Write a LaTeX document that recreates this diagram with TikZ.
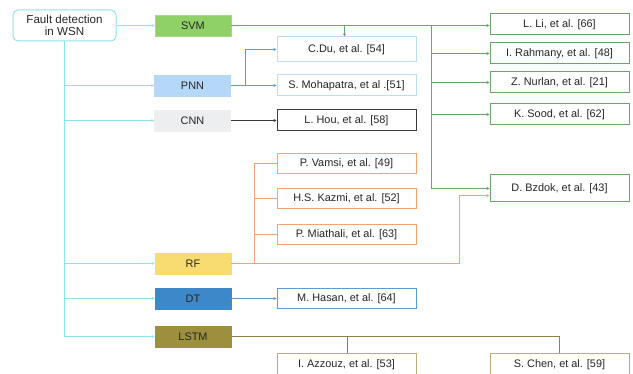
\documentclass[tikz,border=0pt]{standalone}
\usepackage{fontspec}
\setmainfont{Liberation Sans}
\usetikzlibrary{arrows.meta}
\definecolor{cyanc}{HTML}{8EE2EE}
\definecolor{svmfill}{HTML}{8FD166}
\definecolor{greenc}{HTML}{6AA56A}
\definecolor{pnnfill}{HTML}{B5D8F8}
\definecolor{lblue}{HTML}{BDDCF5}
\definecolor{bluec}{HTML}{5B9BD5}
\definecolor{cnnfill}{HTML}{EDEEEF}
\definecolor{darkc}{HTML}{3A3A3A}
\definecolor{rffill}{HTML}{F8DC70}
\definecolor{orangec}{HTML}{F5A373}
\definecolor{dtfill}{HTML}{3D88C8}
\definecolor{lstmfill}{HTML}{9C903F}
\definecolor{olivec}{HTML}{8E8048}
\definecolor{olivebox}{HTML}{B8AD78}
\begin{document}
\begin{tikzpicture}[x=1pt,y=-1pt,
  font=\fontsize{10.9}{12}\selectfont,
  every node/.style={inner sep=0pt,text=black!85},
  method/.style={minimum width=76pt,minimum height=21pt,draw=#1,line width=0.6pt},
  ref/.style={minimum width=139pt,minimum height=21pt,draw=#1,line width=1pt,fill=white},
  arr/.style={-{Stealth[length=3pt,width=3pt]}},
  link/.style={draw=#1,line width=0.9pt}]
\useasboundingbox (0,0) rectangle (633,374);
% root
\node[draw=cyanc,line width=1pt,rounded corners=5pt,minimum width=103pt,minimum height=31pt,align=center,font=\fontsize{11.6}{11.5}\selectfont] (root) at (64.5,25.5) {Fault detection\\in WSN};
% methods
\node[method=svmfill!80!white,fill=svmfill] (svm) at (193,25.5) {SVM};
\node[method=pnnfill,fill=pnnfill] (pnn) at (192.5,85.5) {PNN};
\node[method=cnnfill,fill=cnnfill] (cnn) at (192.5,120.5) {CNN};
\node[method=rffill,fill=rffill] (rf) at (193,263.5) {RF};
\node[method=dtfill,fill=dtfill] (dt) at (193,298.5) {DT};
\node[method=lstmfill,fill=lstmfill] (lstm) at (193,336.5) {LSTM};
% middle refs
\node[ref=lblue,minimum height=25pt] (cdu) at (346.5,49.5) {C.Du, et al. [54]};
\node[ref=lblue] (smoh) at (346.5,85.5) {S. Mohapatra, et al .[51]};
\node[ref=darkc] (lhou) at (346.5,120.5) {L. Hou, et al. [58]};
\node[ref=orangec,minimum height=20pt] (vamsi) at (346.5,163.5) {P. Vamsi, et al. [49]};
\node[ref=orangec,minimum height=20pt] (kazmi) at (346.5,198.5) {H.S. Kazmi, et al. [52]};
\node[ref=orangec,minimum height=20pt] (miat) at (346.5,234.5) {P. Miathali, et al. [63]};
\node[ref=bluec,minimum height=20pt] (hasan) at (346.5,298.5) {M. Hasan, et al. [64]};
\node[ref=olivebox] (azz) at (346.5,364.5) {I. Azzouz, et al. [53]};
% right refs
\node[ref=greenc] (lli) at (559.5,24.5) {L. Li, et al. [66]};
\node[ref=greenc] (rahm) at (559.5,53.5) {I. Rahmany, et al. [48]};
\node[ref=greenc] (nurl) at (559.5,82.5) {Z. Nurlan, et al. [21]};
\node[ref=greenc] (sood) at (559.5,114.5) {K. Sood, et al. [62]};
\node[ref=greenc,minimum height=27pt] (bzd) at (559.5,188.5) {D. Bzdok, et al. [43]};
\node[ref=olivebox] (chen) at (559.5,364.5) {S. Chen, et al. [59]};
% trunk
\draw[link=cyanc,arr] (root.east |- svm.west) -- (svm.west);
\draw[link=cyanc,arr] (root.south) |- (pnn.west);
\draw[link=cyanc,arr] (root.south) |- (cnn.west);
\draw[link=cyanc,arr] (root.south) |- (rf.west);
\draw[link=cyanc,arr] (root.south) |- (dt.west);
\draw[link=cyanc,arr] (root.south) |- (lstm.west);
% SVM
\coordinate (gs) at (431.5,25.5);
\coordinate (gd) at (344.5,25.5);
\draw[link=greenc,arr] (svm.east) -- (lli.west |- svm.east);
\draw[link=greenc,arr] (gd) -- (gd |- cdu.north);
\draw[link=greenc,arr] (gs) |- (rahm.west);
\draw[link=greenc,arr] (gs) |- (nurl.west);
\draw[link=greenc,arr] (gs) |- (sood.west);
\draw[link=greenc,arr] (gs) |- ([yshift=0pt]bzd.west);
% PNN
\coordinate (pf) at (245.5,85.5);
\draw[link=bluec,arr] (pnn.east) -- (smoh.west |- pnn.east);
\draw[link=bluec,arr] (pf) |- (cdu.west);
% CNN
\draw[link=darkc,arr] (cnn.east) -- (lhou.west |- cnn.east);
% RF
\coordinate (rfork) at (254.5,263.5);
\coordinate (rturn) at (459.5,263.5);
\draw[link=orangec] (rf.east) -- (rturn);
\draw[link=orangec] (rfork) |- (vamsi.west);
\draw[link=orangec] (rfork) |- (kazmi.west);
\draw[link=orangec] (rfork) |- (miat.west);
\draw[link=orangec,arr] (rturn) |- ([yshift=-7pt]bzd.west);
% DT
\draw[link=bluec,arr] (dt.east) -- (hasan.west |- dt.east);
% LSTM
\coordinate (lf) at (347.5,336.5);
\draw[link=olivec] (lstm.east) -| ([xshift=-0.5pt]chen.north);
\draw[link=olivec] (lf) -- (lf |- azz.north);
\end{tikzpicture}
\end{document}
